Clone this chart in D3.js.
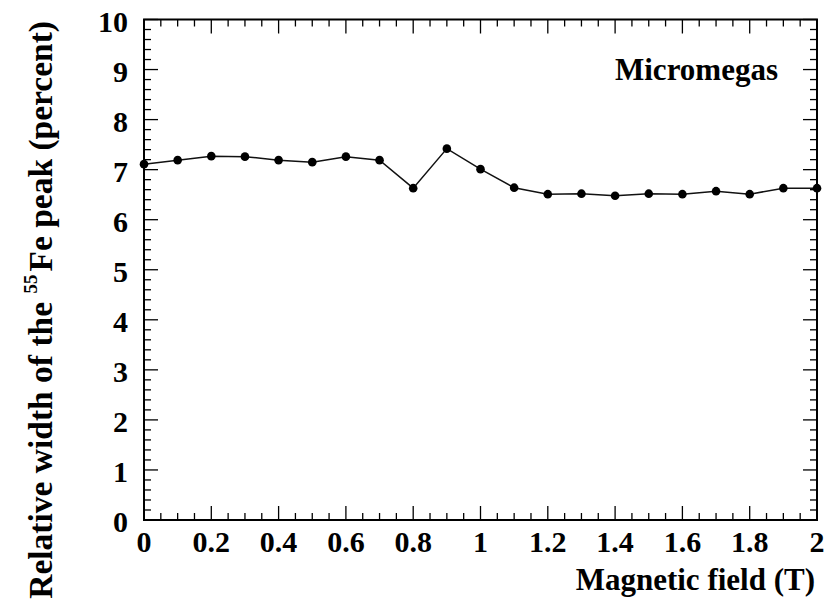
<!DOCTYPE html>
<html>
<head>
<meta charset="utf-8">
<script src="https://cdn.jsdelivr.net/npm/d3@7/dist/d3.min.js"></script>
<style>
  html, body { margin: 0; padding: 0; background: #fff; }
  svg { display: block; }
</style>
</head>
<body>
<svg id="chart" width="839" height="609" font-family="'Liberation Serif', 'Times New Roman', Times, 'DejaVu Serif', serif" font-weight="bold"></svg>
<script>
// ---- data ----
const fieldT = [0, 0.1, 0.2, 0.3, 0.4, 0.5, 0.6, 0.7, 0.8, 0.9, 1.0,
                1.1, 1.2, 1.3, 1.4, 1.5, 1.6, 1.7, 1.8, 1.9, 2.0];
const widthPct = [7.11, 7.19, 7.27, 7.26, 7.19, 7.15, 7.26, 7.19, 6.63, 7.42, 7.01,
                  6.64, 6.51, 6.52, 6.48, 6.52, 6.51, 6.57, 6.51, 6.63, 6.63];
const xTicks = [0, 0.2, 0.4, 0.6, 0.8, 1, 1.2, 1.4, 1.6, 1.8, 2];
const yTicks = [0, 1, 2, 3, 4, 5, 6, 7, 8, 9, 10];
const xTickLabels = ["0", "0.2", "0.4", "0.6", "0.8", "1", "1.2", "1.4", "1.6", "1.8", "2"];
const xTitle = "Magnetic field (T)";
const legendLabel = "Micromegas";

// ---- layout ----
const L = 144, R = 817, T = 19.5, B = 520;
const svg = d3.select("#chart");
const x = d3.scaleLinear().domain([0, 2]).range([L, R]);
const y = d3.scaleLinear().domain([0, 10]).range([B, T]);

const xMinor = d3.range(0, 2.0001, 0.05).map(v => +v.toFixed(2));
const yMinor = d3.range(0, 10.0001, 0.2).map(v => +v.toFixed(1));
const isMajorX = v => Math.abs(v * 5 - Math.round(v * 5)) < 1e-6;
const isMajorY = v => Math.abs(v - Math.round(v)) < 1e-6;

const tickG = svg.append("g").attr("stroke", "#000").attr("stroke-width", 1.3);
xMinor.forEach(v => {
  const len = isMajorX(v) ? 14 : 7;
  tickG.append("line").attr("x1", x(v)).attr("x2", x(v)).attr("y1", B).attr("y2", B - len);
  tickG.append("line").attr("x1", x(v)).attr("x2", x(v)).attr("y1", T).attr("y2", T + len);
});
yMinor.forEach(v => {
  const len = isMajorY(v) ? 14 : 7;
  tickG.append("line").attr("y1", y(v)).attr("y2", y(v)).attr("x1", L).attr("x2", L + len);
  tickG.append("line").attr("y1", y(v)).attr("y2", y(v)).attr("x1", R).attr("x2", R - len);
});

svg.append("rect").attr("x", L).attr("y", T).attr("width", R - L).attr("height", B - T)
  .attr("fill", "none").attr("stroke", "#000").attr("stroke-width", 2);

svg.append("g").selectAll("text").data(xTicks).join("text")
  .attr("x", d => x(d)).attr("y", 551.5)
  .attr("text-anchor", "middle").attr("font-size", 30)
  .text((d, i) => xTickLabels[i]);
svg.append("g").selectAll("text").data(yTicks).join("text")
  .attr("x", 128).attr("y", d => y(d) + 12)
  .attr("text-anchor", "end").attr("font-size", 30)
  .text(d => d);

svg.append("text").attr("x", 815).attr("y", 590).attr("text-anchor", "end")
  .attr("font-size", 31).text(xTitle);

const yt = svg.append("text").attr("text-anchor", "end").attr("font-size", 33.5)
  .attr("transform", "translate(52,21) rotate(-90)");
yt.append("tspan").text("Relative width of the ");
yt.append("tspan").attr("font-size", 19).attr("dy", -15).text("55");
yt.append("tspan").attr("dy", 15).attr("dx", 3).text("Fe peak (percent)");

svg.append("text").attr("x", 615).attr("y", 80).attr("font-size", 31).text(legendLabel);

const pts = fieldT.map((f, i) => [f, widthPct[i]]);
svg.append("path").datum(pts)
  .attr("fill", "none").attr("stroke", "#111").attr("stroke-width", 1.5)
  .attr("d", d3.line().x(d => x(d[0])).y(d => y(d[1])));
svg.append("g").selectAll("circle").data(pts).join("circle")
  .attr("cx", d => x(d[0])).attr("cy", d => y(d[1])).attr("r", 4.3).attr("fill", "#000");
</script>
</body>
</html>
